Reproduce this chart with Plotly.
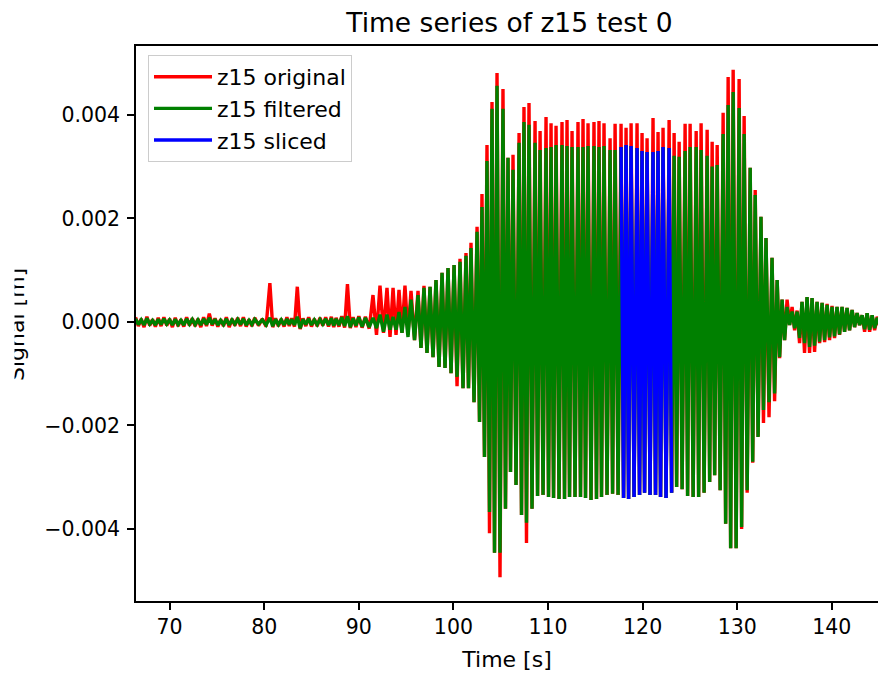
import plotly.graph_objects as go

# Peak time of each oscillation cycle [s]
cycle_time = [
    66.4, 67.0, 67.6, 68.2, 68.8, 69.4, 70.0, 70.6, 71.2, 71.8, 72.4, 73.0, 73.6, 74.2,
    74.8, 75.4, 76.0, 76.6, 77.2, 77.8, 78.4, 79.0, 79.8, 80.6, 81.2, 81.8, 82.4, 82.9,
    83.5, 84.1, 84.7, 85.3, 85.9, 86.5, 87.1, 87.6, 88.2, 88.8, 89.4, 90.0, 90.7,
    91.50, 92.24, 92.98, 93.62, 94.25, 94.88, 95.52, 96.26, 96.89, 97.53, 98.16, 98.80,
    99.43, 100.07, 100.70, 101.33, 101.86, 102.50, 103.02, 103.55, 104.08, 104.61, 105.24,
    105.77, 106.30, 106.94, 107.46, 107.99, 108.63, 109.16, 109.79, 110.32, 110.85, 111.48,
    112.01, 112.54, 113.17, 113.70, 114.23, 114.86, 115.39, 115.92, 116.56, 117.09, 117.72,
    118.25, 118.78, 119.41, 119.94, 120.47, 121.10, 121.63, 122.16, 122.80, 123.33, 123.86,
    124.49, 125.02, 125.66, 126.18, 126.82, 127.35, 127.88, 128.51, 129.04, 129.57, 130.20,
    130.73, 131.37, 131.90, 132.51, 133.04, 133.68, 134.22, 134.74, 135.27, 135.80, 136.33,
    136.85, 137.38, 137.91, 138.44, 138.97, 139.50, 140.02, 140.55, 141.08, 141.61, 142.14,
    142.67, 143.20, 143.73, 144.26, 144.79, 145.32,
]

# Filtered signal: cycle maximum / following minimum [mm]
filt_hi = [
    0.06, 0.04, 0.07, 0.03, 0.05, 0.06, 0.04, 0.05, 0.03, 0.06, 0.05, 0.04, 0.06, 0.08,
    0.05, 0.03, 0.06, 0.04, 0.05, 0.06, 0.03, 0.05, 0.04, 0.08, 0.05, 0.04, 0.06, 0.05,
    0.10, 0.05, 0.06, 0.04, 0.05, 0.06, 0.07, 0.06, 0.09, 0.11, 0.07, 0.09, 0.08,
    0.08, 0.14, 0.14, 0.10, 0.19, 0.29, 0.43, 0.52, 0.66, 0.68, 0.81, 0.95,
    1.04, 1.10, 1.16, 1.28, 1.43, 1.74, 2.22, 3.11, 4.12, 4.56, 4.12,
    3.17, 2.94, 3.46, 3.86, 3.81, 3.46, 3.32, 3.36, 3.38, 3.42, 3.42,
    3.40, 3.38, 3.38, 3.38, 3.40, 3.40, 3.38, 3.40, 3.32, 3.32, 3.38,
    3.42, 3.40, 3.36, 3.30, 3.28, 3.28, 3.30, 3.38, 3.36, 3.21, 3.19,
    3.30, 3.38, 3.38, 3.32, 3.21, 3.00, 3.03, 3.63, 4.19, 4.44, 4.13,
    3.63, 2.98, 2.45, 2.03, 1.62, 1.24, 0.81, 0.43, 0.29, 0.20, 0.20,
    0.39, 0.48, 0.46, 0.39, 0.37, 0.33, 0.29, 0.29, 0.29, 0.27, 0.23,
    0.17, 0.13, 0.17, 0.13, 0.08, 0.10,
]
filt_lo = [
    -0.05, -0.06, -0.04, -0.06, -0.05, -0.04, -0.06, -0.05, -0.06, -0.04, -0.05, -0.06, -0.05, -0.04,
    -0.06, -0.05, -0.06, -0.04, -0.05, -0.06, -0.05, -0.04, -0.06, -0.08, -0.05, -0.06, -0.05, -0.06,
    -0.12, -0.05, -0.06, -0.05, -0.04, -0.06, -0.07, -0.06, -0.08, -0.10, -0.07, -0.09, -0.10,
    -0.12, -0.19, -0.15, -0.15, -0.21, -0.29, -0.35, -0.50, -0.60, -0.68, -0.87, -0.89,
    -0.99, -1.06, -1.28, -1.28, -1.55, -1.93, -2.61, -3.67, -4.46, -4.46, -3.61,
    -2.90, -3.15, -3.73, -3.88, -3.61, -3.36, -3.34, -3.38, -3.40, -3.42, -3.42,
    -3.38, -3.38, -3.38, -3.40, -3.44, -3.42, -3.38, -3.34, -3.32, -3.34, -3.40,
    -3.42, -3.38, -3.34, -3.30, -3.34, -3.34, -3.38, -3.40, -3.30, -3.19, -3.23,
    -3.36, -3.38, -3.38, -3.30, -3.09, -2.96, -3.25, -3.90, -4.37, -4.37, -3.96,
    -3.25, -2.70, -2.22, -1.70, -1.55, -1.38, -0.68, -0.35, -0.06, -0.12, -0.31,
    -0.41, -0.48, -0.46, -0.38, -0.35, -0.30, -0.28, -0.24, -0.19, -0.16, -0.10,
    -0.06, -0.14, -0.15, -0.12, -0.06, -0.05,
]

# Original (unfiltered) signal: cycle maximum / following minimum [mm]
orig_hi = [
    0.09, 0.06, 0.10, 0.05, 0.08, 0.09, 0.06, 0.08, 0.05, 0.09, 0.07, 0.06, 0.09, 0.16,
    0.07, 0.05, 0.09, 0.06, 0.08, 0.09, 0.05, 0.08, 0.06, 0.75, 0.07, 0.06, 0.09, 0.07,
    0.68, 0.07, 0.09, 0.06, 0.08, 0.09, 0.10, 0.08, 0.11, 0.73, 0.09, 0.11, 0.10,
    0.52, 0.70, 0.66, 0.66, 0.62, 0.70, 0.60, 0.60, 0.70, 0.68, 0.81, 0.95,
    1.04, 1.10, 1.22, 1.33, 1.53, 1.84, 2.47, 3.42, 4.25, 4.81, 4.50,
    3.17, 3.23, 3.65, 4.15, 4.23, 3.88, 3.69, 3.96, 3.84, 3.79, 3.86,
    3.90, 3.69, 3.86, 3.92, 3.84, 3.86, 3.88, 3.84, 3.55, 3.83, 3.83,
    3.75, 3.84, 3.84, 3.65, 3.55, 3.94, 3.67, 3.75, 3.90, 3.65, 3.48,
    3.83, 3.83, 3.69, 3.84, 3.71, 3.48, 3.42, 4.04, 4.73, 4.87, 4.69,
    3.98, 2.98, 2.55, 2.03, 1.62, 1.24, 0.81, 0.43, 0.43, 0.29, 0.22,
    0.39, 0.48, 0.46, 0.39, 0.37, 0.35, 0.31, 0.29, 0.29, 0.27, 0.23,
    0.17, 0.13, 0.17, 0.13, 0.10, 0.10,
]
orig_lo = [
    -0.08, -0.10, -0.07, -0.09, -0.08, -0.07, -0.10, -0.08, -0.09, -0.07, -0.08, -0.10, -0.08, -0.07,
    -0.09, -0.08, -0.10, -0.07, -0.08, -0.09, -0.08, -0.07, -0.09, -0.10, -0.08, -0.09, -0.08, -0.09,
    -0.14, -0.08, -0.09, -0.08, -0.07, -0.09, -0.10, -0.09, -0.11, -0.12, -0.10, -0.11, -0.13,
    -0.25, -0.21, -0.29, -0.25, -0.21, -0.25, -0.35, -0.50, -0.60, -0.68, -0.87, -0.89,
    -0.99, -1.24, -1.28, -1.28, -1.55, -1.93, -2.61, -4.08, -4.46, -4.93, -3.61,
    -2.90, -3.15, -3.73, -4.27, -3.61, -3.36, -3.34, -3.38, -3.40, -3.42, -3.42,
    -3.38, -3.38, -3.38, -3.40, -3.44, -3.42, -3.38, -3.34, -3.32, -3.34, -3.40,
    -3.42, -3.38, -3.34, -3.30, -3.34, -3.34, -3.38, -3.40, -3.30, -3.19, -3.23,
    -3.36, -3.38, -3.38, -3.30, -3.09, -2.96, -3.25, -3.90, -4.37, -4.37, -4.00,
    -3.30, -2.72, -2.22, -1.95, -1.84, -1.53, -0.70, -0.35, -0.06, -0.16, -0.41,
    -0.60, -0.60, -0.58, -0.41, -0.39, -0.35, -0.31, -0.25, -0.19, -0.16, -0.10,
    -0.06, -0.19, -0.19, -0.16, -0.08, -0.06,
]

# Time window kept as the analysed slice [s]
slice_start = 117.6
slice_end = 123.2

x_ticks = [70, 80, 90, 100, 110, 120, 130, 140]
x_tick_text = ["70", "80", "90", "100", "110", "120", "130", "140"]
y_ticks = [-0.004, -0.002, 0.0, 0.002, 0.004]
y_tick_text = ["\u22120.004", "\u22120.002", "0.000", "0.002", "0.004"]

MM = 1e-3
FONT = "DejaVu Sans"
LINE_W = 3.4


def waveform(times, hi, lo):
    """Polyline through each cycle's maximum and the minimum that follows it."""
    xs, ys = [], []
    for i, t in enumerate(times):
        xs.append(t)
        ys.append(hi[i] * MM)
        t_next = times[i + 1] if i + 1 < len(times) else t + 0.54
        xs.append((t + t_next) / 2)
        ys.append(lo[i] * MM)
    return xs, ys


t_orig, y_orig = waveform(cycle_time, orig_hi, orig_lo)
t_filt, y_filt = waveform(cycle_time, filt_hi, filt_lo)
sel = [i for i, t in enumerate(t_filt) if slice_start <= t <= slice_end]
t_slice = [t_filt[i] for i in sel]
y_slice = [y_filt[i] for i in sel]

fig = go.Figure()
fig.add_trace(go.Scatter(x=t_orig, y=y_orig, mode="lines", name="z15 original",
                         line=dict(color="#ff0000", width=LINE_W), legendgroup="a"))
fig.add_trace(go.Scatter(x=t_filt, y=y_filt, mode="lines", name="z15 filtered",
                         line=dict(color="#008000", width=LINE_W), legendgroup="b"))
fig.add_trace(go.Scatter(x=t_slice, y=y_slice, mode="lines", name="z15 sliced",
                         line=dict(color="#0000ff", width=LINE_W), legendgroup="c"))

axis_common = dict(
    showline=True, linecolor="black", linewidth=1.6,
    ticks="outside", ticklen=7, tickwidth=1.6, tickcolor="black",
    showgrid=False, zeroline=False,
    tickfont=dict(family=FONT, size=20.5, color="black"),
)

fig.update_layout(
    width=878, height=673,
    margin=dict(l=136, r=0, t=46, b=72),
    paper_bgcolor="white", plot_bgcolor="white",
    font=dict(family=FONT, size=20, color="black"),
    title=dict(text="Time series of z15 test 0", x=509.5 / 878, xref="container",
               xanchor="center", y=1 - 23 / 673, yanchor="middle",
               font=dict(family=FONT, size=26.5, color="black")),
    xaxis=dict(range=[66.45, 144.88], tickvals=x_ticks, ticktext=x_tick_text,
               mirror=True,
               title=dict(text="Time [s]", font=dict(family=FONT, size=22, color="black"),
                          standoff=13),
               **axis_common),
    yaxis=dict(range=[-0.00539, 0.00533], tickvals=y_ticks, ticktext=y_tick_text,
               mirror=False, ticklabelstandoff=3, **axis_common),
    legend=dict(x=(148 - 136) / 742, y=(601 - 55) / 555, xanchor="left", yanchor="top",
                bgcolor="rgba(255,255,255,0.8)", bordercolor="#cccccc", borderwidth=1,
                font=dict(family=FONT, size=22, color="black"),
                itemwidth=58, tracegroupgap=6, traceorder="normal"),
    showlegend=True,
)

# y-axis label, trimmed along its left side by a blank white panel
fig.add_annotation(text="Signal [m]", textangle=-90, xref="paper", yref="paper",
                   x=(16 - 136) / 742, y=(601 - 325) / 555, xanchor="center", yanchor="middle",
                   showarrow=False, font=dict(family=FONT, size=22, color="black"))
fig.add_annotation(text="\u00a0", xref="paper", yref="paper",
                   x=(7 - 136) / 742, y=(601 - 325) / 555, xanchor="center", yanchor="middle",
                   width=14, height=170, borderpad=0, bgcolor="white", showarrow=False)

fig.write_html("out.html")
